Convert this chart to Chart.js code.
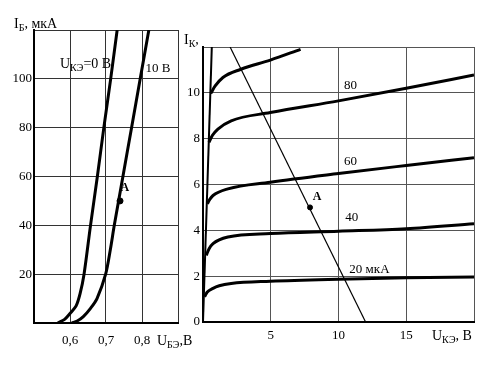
<!DOCTYPE html>
<html>
<head>
<meta charset="utf-8">
<script src="https://cdn.jsdelivr.net/npm/chart.js@4.4.1/dist/chart.umd.min.js"></script>
<style>
  body { margin: 0; background: #fff; }
  #wrap { position: relative; width: 483px; height: 375px; overflow: hidden; }
  #left { position: absolute; left: 0; top: 0; }
  #right { position: absolute; left: 180px; top: 0; }
</style>
</head>
<body>
<div id="wrap">
  <canvas id="left" width="200" height="375"></canvas>
  <canvas id="right" width="303" height="375"></canvas>
</div>
<script>
// input characteristics: Ib (uA) vs Ube (V)
const ube0 = [0.566, 0.585, 0.600, 0.617, 0.628, 0.639, 0.657, 0.676, 0.694, 0.713, 0.731];
const ib0 = [0, 1.5, 3.9, 7, 12, 20, 40, 60, 80, 100, 120];
const ube10 = [0.605, 0.620, 0.637, 0.657, 0.675, 0.699, 0.712, 0.723, 0.747, 0.771, 0.795, 0.819];
const ib10 = [0, 0.8, 2.6, 6, 10, 20, 30, 40, 60, 80, 100, 120];
const pointAUbe = [0.739];
const pointAIb = [50];
const ubeTicks = [0.6, 0.7, 0.8];
const ibTicks = [20, 40, 60, 80, 100];

// output characteristics: Ic (mA) vs Uce (V)
const satUce = [0, 0.65];
const satIk = [0, 12];
const uce20 = [0.12, 0.3, 0.74, 1.2, 2.08, 4.97, 10, 15, 20];
const ik20 = [1.1, 1.3, 1.47, 1.58, 1.68, 1.78, 1.87, 1.93, 1.96];
const uce40 = [0.24, 0.45, 0.74, 1.84, 4.97, 10, 15, 20];
const ik40 = [2.91, 3.2, 3.42, 3.71, 3.86, 3.96, 4.07, 4.29];
const uce60 = [0.32, 0.5, 0.74, 1.84, 4.97, 10, 15, 20];
const ik60 = [5.16, 5.35, 5.52, 5.81, 6.1, 6.48, 6.83, 7.17];
const uce80 = [0.44, 0.7, 1.1, 2.08, 4.97, 10, 15, 20];
const ik80 = [7.84, 8.15, 8.42, 8.78, 9.14, 9.65, 10.2, 10.78];
const uce100 = [0.57, 0.9, 1.47, 2.8, 4.97, 7.2];
const ik100 = [9.97, 10.3, 10.67, 11.03, 11.43, 11.9];
const loadUce = [2.0, 12];
const loadIk = [12, 0];
const pointAUce = [7.9];
const pointAIk = [5.0];
const curveLabels = ['20 мкА', '40', '60', '80'];
const uceTicks = [5, 10, 15];
const ikTicks = [0, 2, 4, 6, 8, 10];

const FONT = '"Liberation Serif", "DejaVu Serif", serif';

function pts(xs, ys) {
    return xs.map((x, i) => ({x: x, y: ys[i]}));
}

function curve(xs, ys, width, mode) {
    return {
        data: pts(xs, ys),
        showLine: true,
        borderColor: '#000',
        borderWidth: width,
        pointRadius: 0,
        tension: mode === 'monotone' ? 0.4 : 0.3,
        cubicInterpolationMode: mode
    };
}

// text with subscript pieces: [[text, isSub], ...]
function drawParts(ctx, parts, x, y, size) {
    ctx.save();
    ctx.fillStyle = '#000';
    ctx.textBaseline = 'middle';
    ctx.textAlign = 'left';
    parts.forEach(p => {
        var sub = p[1];
        ctx.font = (sub ? Math.round(size * 0.7) : size) + 'px ' + FONT;
        ctx.fillText(p[0], x, sub ? y + size * 0.3 : y);
        x += ctx.measureText(p[0]).width;
    });
    ctx.restore();
}

function isTick(list, v) {
    return list.some(t => Math.abs(t - v) < 1e-6);
}

const leftLabels = {
    id: 'leftLabels',
    afterDraw(chart) {
        const ctx = chart.ctx;
        const xs = chart.scales.x, ys = chart.scales.y;
        drawParts(ctx, [['I', false], ['Б', true], [', мкА', false]], 14, 24, 14);
        drawParts(ctx, [['U', false], ['БЭ', true], [',В', false]], 157, 341, 14);
        drawParts(ctx, [['U', false], ['КЭ', true], ['=0 В', false]], xs.getPixelForValue(0.572), ys.getPixelForValue(106), 14);
        drawParts(ctx, [['10 В', false]], xs.getPixelForValue(0.81), ys.getPixelForValue(104), 13);
        ctx.save();
        ctx.font = 'bold 12px ' + FONT;
        ctx.textBaseline = 'middle';
        ctx.fillText('A', xs.getPixelForValue(0.74), ys.getPixelForValue(55.5));
        ctx.restore();
    }
};

const rightLabels = {
    id: 'rightLabels',
    afterDraw(chart) {
        const ctx = chart.ctx;
        const xs = chart.scales.x, ys = chart.scales.y;
        drawParts(ctx, [['I', false], ['К', true], [',', false]], 184 - 180, 40, 14);
        drawParts(ctx, [['U', false], ['КЭ', true], [', В', false]], 432 - 180, 336, 14);
        const lx = [10.8, 10.5, 10.4, 10.4];
        const ly = [2.3, 4.55, 7.0, 10.3];
        ctx.save();
        ctx.font = '13px ' + FONT;
        ctx.textBaseline = 'middle';
        curveLabels.forEach((t, i) => {
            ctx.fillText(t, xs.getPixelForValue(lx[i]), ys.getPixelForValue(ly[i]));
        });
        ctx.font = 'bold 12px ' + FONT;
        ctx.fillText('A', xs.getPixelForValue(8.1), ys.getPixelForValue(5.45));
        ctx.restore();
    }
};

new Chart(document.getElementById('left'), {
    type: 'scatter',
    data: {
        datasets: [
            curve(ube0, ib0, 3, 'default'),
            curve(ube10, ib10, 3, 'default'),
            {data: pts(pointAUbe, pointAIb), pointRadius: 3, backgroundColor: '#000', borderColor: '#000'}
        ]
    },
    options: {
        responsive: false,
        animation: false,
        layout: {padding: {left: 0, top: 30, right: 22, bottom: 0}},
        plugins: {legend: {display: false}, tooltip: {enabled: false}},
        scales: {
            x: {
                type: 'linear', min: 0.5, max: 0.9,
                afterFit: s => { s.height = 52; },
                border: {color: '#000', width: 2},
                grid: {color: '#333', lineWidth: 1, drawTicks: false},
                ticks: {
                    stepSize: 0.1, padding: 10, color: '#000', font: {family: FONT, size: 13},
                    maxRotation: 0,
                    callback: v => isTick(ubeTicks, v) ? v.toFixed(1).replace('.', ',') : ''
                }
            },
            y: {
                type: 'linear', min: 0, max: 120,
                afterFit: s => { s.width = 34; },
                border: {color: '#000', width: 2},
                grid: {color: '#333', lineWidth: 1, drawTicks: false},
                ticks: {
                    stepSize: 20, padding: 2, color: '#000', font: {family: FONT, size: 13},
                    callback: v => isTick(ibTicks, v) ? String(v) : ''
                }
            }
        }
    },
    plugins: [leftLabels]
});

new Chart(document.getElementById('right'), {
    type: 'scatter',
    data: {
        datasets: [
            {data: pts(satUce, satIk), showLine: true, borderColor: '#000', borderWidth: 2, pointRadius: 0},
            curve(uce20, ik20, 3, 'monotone'),
            curve(uce40, ik40, 3, 'monotone'),
            curve(uce60, ik60, 3, 'monotone'),
            curve(uce80, ik80, 3, 'monotone'),
            curve(uce100, ik100, 3, 'monotone'),
            {data: pts(loadUce, loadIk), showLine: true, borderColor: '#000', borderWidth: 1.2, pointRadius: 0},
            {data: pts(pointAUce, pointAIk), pointRadius: 2.5, backgroundColor: '#000', borderColor: '#000'}
        ]
    },
    options: {
        responsive: false,
        animation: false,
        layout: {padding: {left: 0, top: 47, right: 9, bottom: 0}},
        plugins: {legend: {display: false}, tooltip: {enabled: false}},
        scales: {
            x: {
                type: 'linear', min: 0, max: 20,
                afterFit: s => { s.height = 53; },
                border: {color: '#000', width: 2},
                grid: {color: '#555', lineWidth: 1, drawTicks: false},
                ticks: {
                    stepSize: 5, padding: 6, color: '#000', font: {family: FONT, size: 13},
                    maxRotation: 0,
                    callback: v => isTick(uceTicks, v) ? String(v) : ''
                }
            },
            y: {
                type: 'linear', min: 0, max: 12,
                afterFit: s => { s.width = 23; },
                border: {color: '#000', width: 2},
                grid: {color: '#555', lineWidth: 1, drawTicks: false},
                ticks: {
                    stepSize: 2, padding: 3, color: '#000', font: {family: FONT, size: 13},
                    callback: v => isTick(ikTicks, v) ? String(v) : ''
                }
            }
        }
    },
    plugins: [rightLabels]
});
</script>
</body>
</html>
